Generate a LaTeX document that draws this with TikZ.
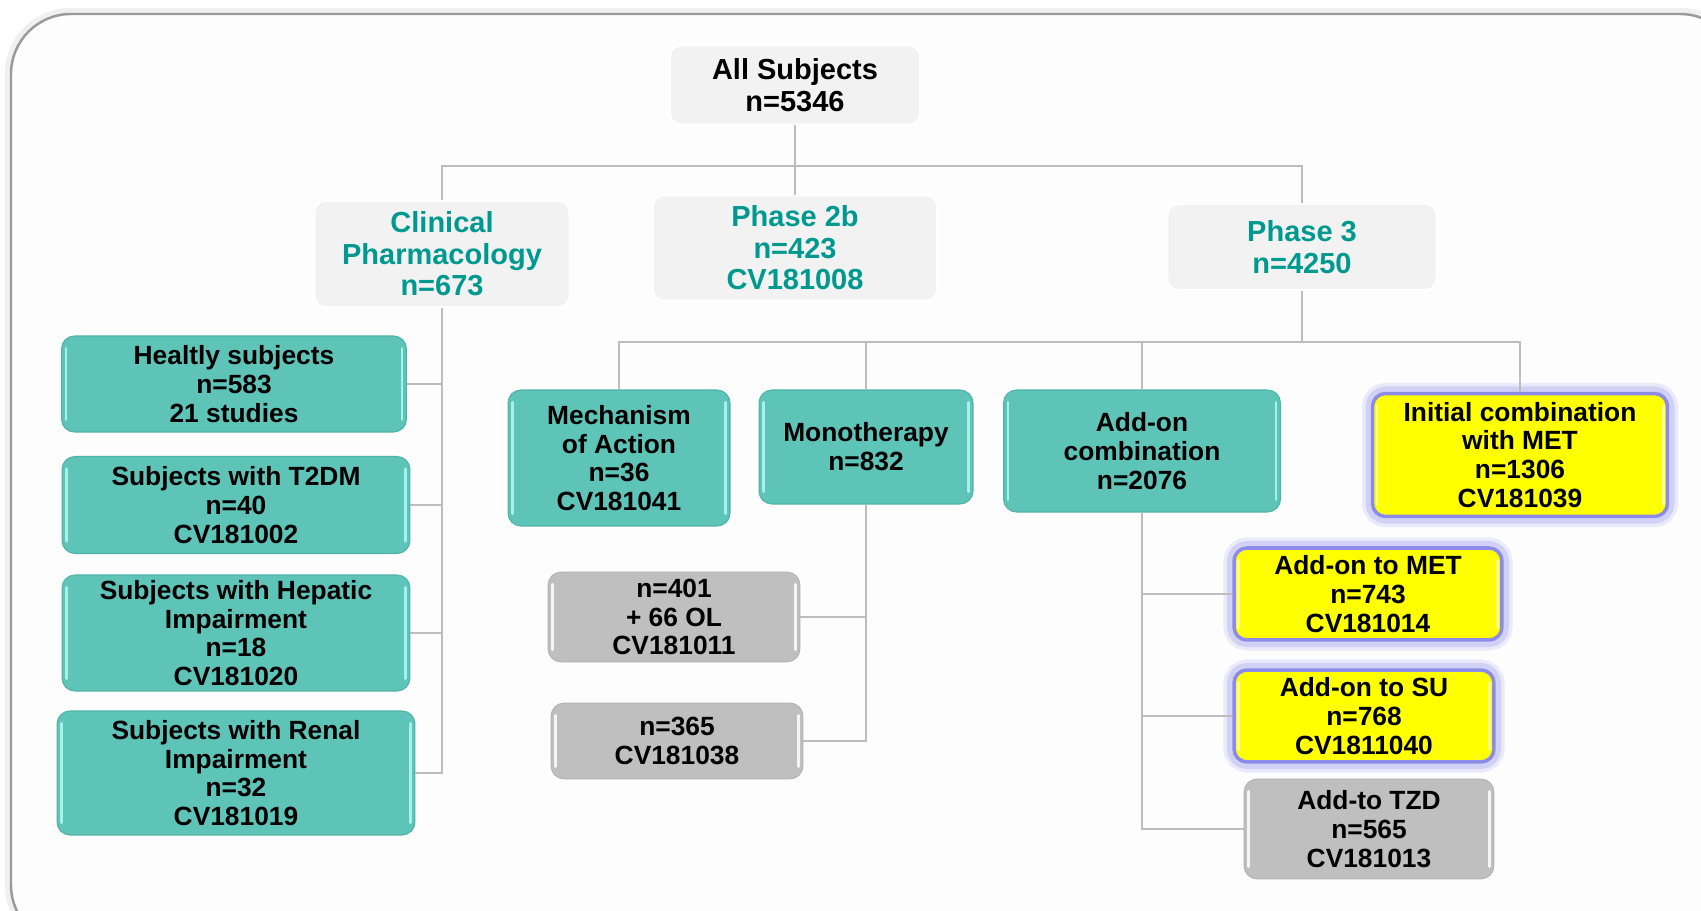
\documentclass[tikz,border=0pt]{standalone}
\usepackage{fontspec}
\setmainfont{Liberation Sans}
\usetikzlibrary{positioning,calc}
\definecolor{frm}{HTML}{9A9A9A}
\definecolor{frmfill}{HTML}{FDFDFD}
\definecolor{hdr}{HTML}{F2F2F2}
\definecolor{tealtxt}{HTML}{00998F}
\definecolor{tealbox}{HTML}{5FC4B8}
\definecolor{tealedge}{HTML}{4FB3A7}
\definecolor{tealgloss}{HTML}{A6F2EA}
\definecolor{greybox}{HTML}{BFBFBF}
\definecolor{yel}{HTML}{FFFF00}
\definecolor{glow}{HTML}{8C8CE8}
\definecolor{conn}{HTML}{BDBDBD}

\begin{document}
\begin{tikzpicture}[
  x=0.02cm, y=-0.02cm,
  hfont/.style={font=\fontsize{16.5}{18}\selectfont\bfseries},
  bfont/.style={font=\fontsize{15}{16.4}\selectfont\bfseries},
  gloss/.style={path picture={
    \draw[#1, line width=1.6pt, line cap=round]
      ([xshift=2.5pt,yshift=-7pt]path picture bounding box.north west) --
      ([xshift=2.5pt,yshift=7pt]path picture bounding box.south west);
    \draw[#1, line width=1.6pt, line cap=round]
      ([xshift=-2.5pt,yshift=-7pt]path picture bounding box.north east) --
      ([xshift=-2.5pt,yshift=7pt]path picture bounding box.south east);}},
  head/.style={hfont, fill=hdr, draw=white, line width=1pt, rounded corners=0.22cm,
    align=center, inner sep=2pt, text=#1},
  head/.default=tealtxt,
  tealb/.style={bfont, fill=tealbox, draw=tealedge, line width=0.6pt, rounded corners=0.26cm,
    align=center, inner sep=2pt, gloss=tealgloss},
  greyb/.style={bfont, fill=greybox, draw=greybox!90!black, line width=0.4pt, rounded corners=0.26cm,
    align=center, inner sep=2pt, gloss=white!85!greybox},
  yelb/.style={bfont, fill=yel, draw=glow, line width=2pt, rounded corners=0.26cm,
    align=center, inner sep=2pt, gloss=white!60!yel,
    preaction={draw=glow!18, line width=12pt},
    preaction={draw=glow!40, line width=8pt}},
  link/.style={draw=conn, line width=1.6pt},
]
\useasboundingbox (0,0) rectangle (1701,911);
\clip (0,0) rectangle (1701,911);

% frame
\draw[frm, line width=1.4pt, fill=frmfill, rounded corners=1.2cm,
  preaction={draw=gray!12, line width=7pt}] (11,14) rectangle (1740,945);

% top levels
\node[head=black, minimum width=5cm, minimum height=1.58cm] (all) at (795,85) {All Subjects\\n=5346};
\node[head, minimum width=5.1cm, minimum height=2.12cm] (clin) at (442,254) {Clinical\\Pharmacology\\n=673};
\node[head, minimum width=5.68cm, minimum height=2.1cm] (ph2b) at (795,248) {Phase 2b\\n=423\\CV181008};
\node[head, minimum width=5.38cm, minimum height=1.72cm] (ph3) at (1302,247) {Phase 3\\n=4250};

% phase 3 branches
\node[tealb, minimum width=4.44cm, minimum height=2.72cm] (moa) at (619,458) {Mechanism\\of Action\\n=36\\CV181041};
\node[tealb, minimum width=4.28cm, minimum height=2.28cm] (mono) at (866,447) {Monotherapy\\n=832};
\node[tealb, minimum width=5.54cm, minimum height=2.44cm] (addon) at (1142,451) {Add-on\\combination\\n=2076};
\node[yelb, minimum width=5.9cm, minimum height=2.46cm] (initc) at (1520,455) {Initial combination\\with MET\\n=1306\\CV181039};

% clinical pharmacology
\node[tealb, minimum width=6.9cm, minimum height=1.92cm] (hlt) at (234,384) {Healtly subjects\\n=583\\21 studies};
\node[tealb, minimum width=6.96cm, minimum height=1.94cm] (t2dm) at (236,505) {Subjects with T2DM\\n=40\\CV181002};
\node[tealb, minimum width=6.96cm, minimum height=2.32cm] (hep) at (236,633) {Subjects with Hepatic\\Impairment\\n=18\\CV181020};
\node[tealb, minimum width=7.16cm, minimum height=2.48cm] (ren) at (236,773) {Subjects with Renal\\Impairment\\n=32\\CV181019};

% monotherapy studies
\node[greyb, minimum width=5.04cm, minimum height=1.8cm] (mono401) at (674,617) {n=401\\+ 66 OL\\CV181011};
\node[greyb, minimum width=5.04cm, minimum height=1.52cm] (mono365) at (677,741) {n=365\\CV181038};

% add-on studies
\node[yelb, minimum width=5.36cm, minimum height=1.84cm] (addmet) at (1368,594) {Add-on to MET\\n=743\\CV181014};
\node[yelb, minimum width=5.2cm, minimum height=1.84cm] (addsu) at (1364,716) {Add-on to SU\\n=768\\CV1811040};
\node[greyb, minimum width=5cm, minimum height=2cm] (addtzd) at (1369,829) {Add-to TZD\\n=565\\CV181013};

% connectors
\coordinate (bar1) at (795,166);
\coordinate (bar2) at (1302,342);
\draw[link] (all.south) -- (ph2b.north);
\draw[link] (clin.north) |- (bar1) -| (ph3.north);
\draw[link] (ph3.south) -- (bar2);
\draw[link] (moa.north) |- (bar2) -| (initc.north);
\draw[link] (mono.north) -- (mono.north |- bar2);
\draw[link] (addon.north) -- (addon.north |- bar2);

\draw[link] (clin.south) |- (ren.east);
\draw[link] (hlt.east) -- (hlt.east -| clin.south);
\draw[link] (t2dm.east) -- (t2dm.east -| clin.south);
\draw[link] (hep.east) -- (hep.east -| clin.south);

\draw[link] (mono.south) |- (mono365.east);
\draw[link] (mono401.east) -- (mono401.east -| mono.south);

\draw[link] (addon.south) |- (addtzd.west);
\draw[link] (addmet.west) -- (addmet.west -| addon.south);
\draw[link] (addsu.west) -- (addsu.west -| addon.south);

\end{tikzpicture}
\end{document}
